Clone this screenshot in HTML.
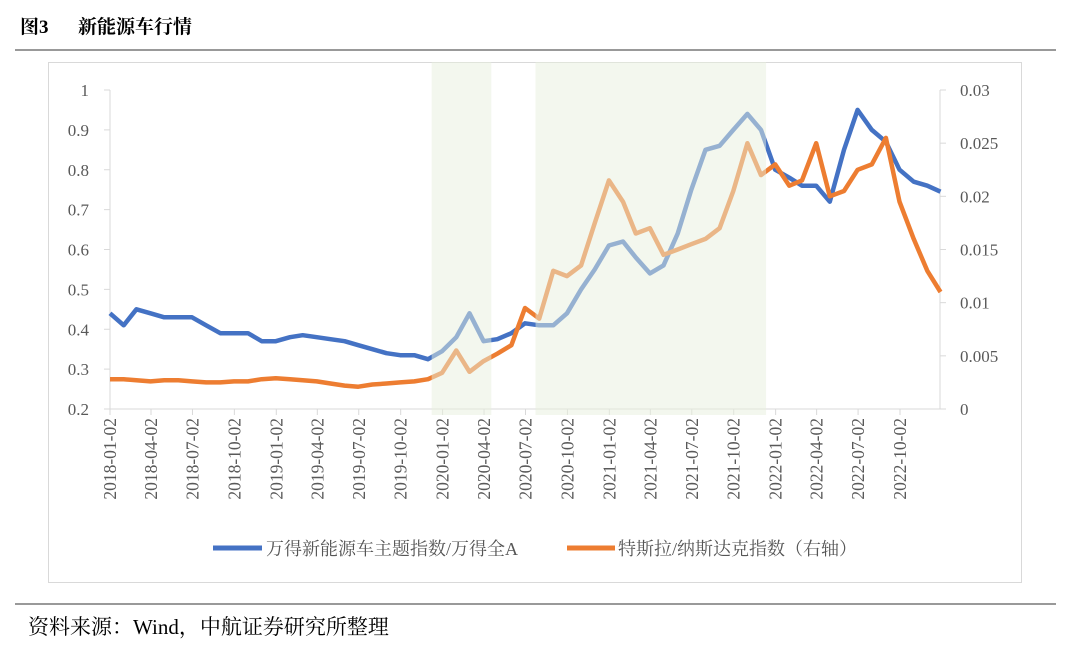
<!DOCTYPE html>
<html><head><meta charset="utf-8">
<style>
body{margin:0;background:#fff;width:1080px;height:647px;overflow:hidden;font-family:"Liberation Serif","Noto Serif CJK SC",serif;}
</style></head>
<body>
<svg width="1080" height="647" xmlns="http://www.w3.org/2000/svg">
<text x="20" y="33" font-size="19" font-weight="bold" font-family="Liberation Serif, Noto Serif CJK SC, serif">图3</text>
<text x="78" y="33" font-size="19" font-weight="bold" font-family="Liberation Serif, Noto Serif CJK SC, serif">新能源车行情</text>
<line x1="15" y1="50" x2="1056" y2="50" stroke="#333" stroke-width="1"/>
<rect x="48.5" y="62.5" width="973" height="520" fill="none" stroke="#d9d9d9"/>
<g id="plot"></g>
<g>
<line x1="213" y1="548" x2="262" y2="548" stroke="#4472c4" stroke-width="5"/>
<text x="266" y="555" font-size="18" fill="#555" font-family="Liberation Serif, Noto Serif CJK SC, serif">万得新能源车主题指数/万得全A</text>
<line x1="567" y1="548" x2="615" y2="548" stroke="#ed7d31" stroke-width="5"/>
<text x="618" y="555" font-size="18" fill="#555" font-family="Liberation Serif, Noto Serif CJK SC, serif">特斯拉/纳斯达克指数（右轴）</text>
</g>
<line x1="15" y1="604" x2="1056" y2="604" stroke="#333" stroke-width="1"/>
<text x="28" y="634" font-size="21" font-family="Liberation Serif, Noto Serif CJK SC, serif">资料来源：Wind，中航证券研究所整理</text>
</svg>
<script>
const blueVals=[.44,.41,.45,.44,.43,.43,.43,.41,.39,.39,.39,.37,
.37,.38,.385,.38,.375,.37,.36,.35,.34,.335,.335,.325,
.345,.38,.44,.37,.375,.39,.415,.41,.41,.44,.5,.55,
.61,.62,.58,.54,.56,.64,.75,.85,.86,.90,.94,.90,
.80,.78,.76,.76,.72,.85,.95,.90,.87,.80,.77,.76,.745];
const orangeVals=[2.8,2.8,2.7,2.6,2.7,2.7,2.6,2.5,2.5,2.6,2.6,2.8,
2.9,2.8,2.7,2.6,2.4,2.2,2.1,2.3,2.4,2.5,2.6,2.8,
3.4,5.5,3.5,4.5,5.2,6.0,9.5,8.5,13.0,12.5,13.5,17.5,
21.5,19.5,16.5,17.0,14.5,15.0,15.5,16.0,17.0,20.5,25.0,22.0,
23.0,21.0,21.5,25.0,20.0,20.5,22.5,23.0,25.5,19.5,16.0,13.0,11.0].map(v=>v/1000);
const leftTicks=[0.2,0.3,0.4,0.5,0.6,0.7,0.8,0.9,1];
const leftLabels=["0.2","0.3","0.4","0.5","0.6","0.7","0.8","0.9","1"];
const rightTicks=[0,0.005,0.01,0.015,0.02,0.025,0.03];
const rightLabels=["0","0.005","0.01","0.015","0.02","0.025","0.03"];
const xLabels=["2018-01-02","2018-04-02","2018-07-02","2018-10-02","2019-01-02","2019-04-02","2019-07-02","2019-10-02","2020-01-02","2020-04-02","2020-07-02","2020-10-02","2021-01-02","2021-04-02","2021-07-02","2021-10-02","2022-01-02","2022-04-02","2022-07-02","2022-10-02"];
const shadeRanges=[["2019-12-09","2020-04-18"],["2020-07-24","2021-12-12"]];

const NS="http://www.w3.org/2000/svg";
const g=document.getElementById('plot');
const t0=Date.UTC(2018,0,2), t1=Date.UTC(2022,9,2);
const pxDay=(900-110)/((t1-t0)/864e5);
function xd(s){const p=s.split('-').map(Number);return 110+((Date.UTC(p[0],p[1]-1,p[2])-t0)/864e5)*pxDay;}
function yl(v){return 409-(v-0.2)/0.8*319;}
function yr(v){return 409-v/0.03*319;}
function mk(tag,attrs){const e=document.createElementNS(NS,tag);for(const k in attrs)e.setAttribute(k,attrs[k]);g.appendChild(e);return e;}
function pointDate(i){if(i>=60)return "2022-12-30";const y=2018+Math.floor(i/12),m=i%12+1;return y+"-"+String(m).padStart(2,'0')+"-"+(i===0?"02":"01");}
let e=mk('line',{x1:110,y1:90,x2:110,y2:409,stroke:'#d9d9d9'});


e=mk('line',{x1:940,y1:90,x2:940,y2:409,stroke:'#d9d9d9'});


e=mk('line',{x1:110,y1:409,x2:940,y2:409,stroke:'#d9d9d9'});


leftTicks.forEach((v,i)=>{
  const y=yl(v);
  let l=mk('line',{x1:104,y1:y,x2:110,y2:y,stroke:'#d9d9d9'});
  
  
  let t=mk('text',{x:89,y:y+6,'text-anchor':'end','font-size':17,fill:'#595959'});
  t.textContent=leftLabels[i];
  
  
});
rightTicks.forEach((v,i)=>{
  const y=yr(v);
  let l=mk('line',{x1:940,y1:y,x2:946,y2:y,stroke:'#d9d9d9'});
  
  
  let t=mk('text',{x:960,y:y+6,'font-size':17,fill:'#595959'});
  t.textContent=rightLabels[i];
  
  
});
xLabels.forEach(s=>{
  const x=xd(s);
  let l=mk('line',{x1:x,y1:409,x2:x,y2:415,stroke:'#d9d9d9'});
  
  
  let t=mk('text',{x:0,y:0,'text-anchor':'end','font-size':17.5,fill:'#595959',transform:`translate(${x+6},418) rotate(-90)`});
  t.textContent=s;
  
  
});
function line(vals,yf,color,name){
  const d=vals.map((v,i)=>(i?'L':'M')+xd(pointDate(i)).toFixed(1)+','+yf(v).toFixed(1)).join('');
  const p=mk('path',{d:d,fill:'none',stroke:color,'stroke-width':4.5,'stroke-linejoin':'round'});
  
  
}
line(blueVals,yl,'#4472c4','series-ratio-line');
line(orangeVals,yr,'#ed7d31','series-tesla-line');
shadeRanges.forEach(r=>{
  const a=xd(r[0]),b=xd(r[1]);
  const s=mk('rect',{x:a,y:62,width:b-a,height:353,fill:'rgb(232,240,222)','fill-opacity':0.5});
  
  
});
</script>
</body></html>
